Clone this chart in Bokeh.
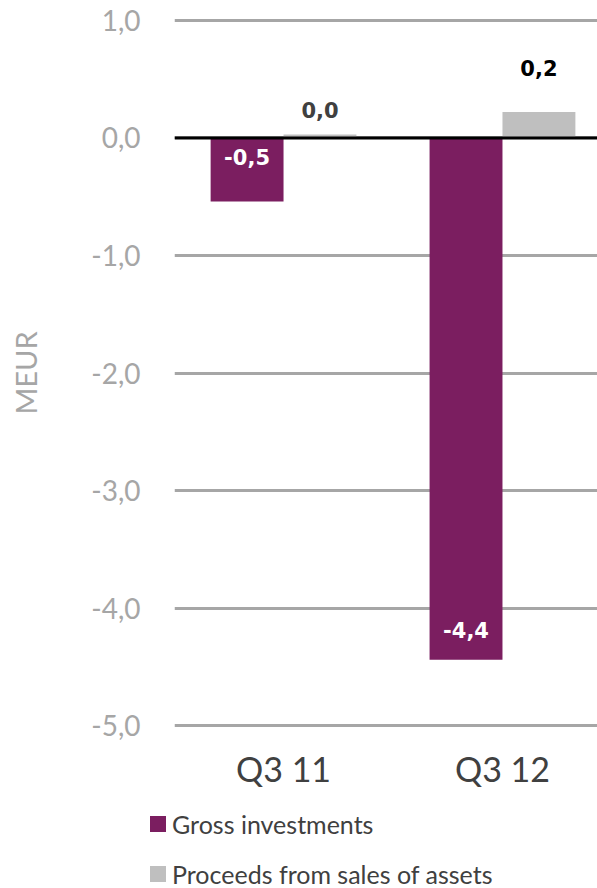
import numpy as np
from bokeh.plotting import figure
from bokeh.layouts import column
from bokeh.models import (Range1d, FixedTicker, CustomJSTickFormatter, Span, Div,
                          ColumnDataSource)
from bokeh.core.properties import value
from bokeh.embed import file_html
from bokeh.resources import INLINE

# ---- data ----
categories = ["Q3 11", "Q3 12"]
gross_investments = [-0.54, -4.44]
proceeds_from_sales = [0.03, 0.22]
y_ticks = [-5, -4, -3, -2, -1, 0, 1]
series_names = ["Gross investments", "Proceeds from sales of assets"]

# ---- styles ----
PURPLE = "#7b1e60"
LIGHTGRAY = "#bfbfbf"
GRID = "#a6a6a6"
TICK_TXT = "#a6a6a6"
DARK = "#404040"
FONT = "Lato"
series_colors = [PURPLE, LIGHTGRAY]

idx = np.arange(len(categories))
bar_w = 0.333

p = figure(width=597, height=800, output_backend="svg", toolbar_location=None,
           x_range=Range1d(-0.498, 1.434), y_range=Range1d(-5.05, 1.05),
           min_border_left=174, min_border_right=0, min_border_top=14,
           min_border_bottom=69, margin=0)
p.outline_line_color = None
p.background_fill_color = "white"
p.border_fill_color = "white"

src_g = ColumnDataSource(dict(x=idx - bar_w / 2, top=gross_investments))
src_p = ColumnDataSource(dict(x=idx + bar_w / 2, top=proceeds_from_sales))
r_g = p.vbar(x="x", top="top", bottom=0, width=bar_w, source=src_g,
             fill_color=PURPLE, line_color=None)
r_p = p.vbar(x="x", top="top", bottom=0, width=bar_w, source=src_p,
             fill_color=LIGHTGRAY, line_color=None)

p.add_layout(Span(location=0, dimension="width", line_color="black", line_width=3))

# grid
p.xgrid.visible = False
p.ygrid.ticker = FixedTicker(ticks=y_ticks)
p.ygrid.grid_line_color = GRID
p.ygrid.grid_line_width = 3

# y axis
p.yaxis.ticker = FixedTicker(ticks=y_ticks)
p.yaxis.formatter = CustomJSTickFormatter(code="return tick.toFixed(1).replace('.', ',');")
p.yaxis.axis_line_color = None
p.yaxis.major_tick_line_color = None
p.yaxis.minor_tick_line_color = None
p.yaxis.major_label_text_color = TICK_TXT
p.yaxis.major_label_text_font = FONT
p.yaxis.major_label_text_font_size = "28px"
p.yaxis.major_label_standoff = 28
p.yaxis.axis_label = "MEUR"
p.yaxis.axis_label_text_color = TICK_TXT
p.yaxis.axis_label_text_font = FONT
p.yaxis.axis_label_text_font_size = "29px"
p.yaxis.axis_label_text_font_style = "normal"
p.yaxis.axis_label_standoff = 45

# x axis
p.xaxis.ticker = FixedTicker(ticks=list(idx))
p.xaxis.major_label_overrides = {int(i): c for i, c in zip(idx, categories)}
p.xaxis.axis_line_color = None
p.xaxis.major_tick_line_color = None
p.xaxis.minor_tick_line_color = None
p.xaxis.major_label_text_color = DARK
p.xaxis.major_label_text_font = FONT
p.xaxis.major_label_text_font_size = "34px"
p.xaxis.major_label_standoff = 10

# data labels
def fmt(v):
    return f"{v:.1f}".replace(".", ",")

lbl_src = ColumnDataSource(dict(
    x=list(idx - bar_w / 2) + list(idx + bar_w / 2),
    y=gross_investments + proceeds_from_sales,
    text=[fmt(v) for v in gross_investments + proceeds_from_sales],
    color=["white", "white", DARK, "black"],
    dy=[-44, -30, -24, -44],
))
p.text(x="x", y="y", text="text", source=lbl_src, text_color="color", y_offset="dy",
       text_align="center", text_baseline="middle", text_font=value("DejaVu Sans"),
       text_font_style="bold", text_font_size="21px")

# legend (HTML, below the chart)
rows = []
for i, (name, col) in enumerate(zip(series_names, series_colors)):
    top = 13 + i * 50
    rows.append(
        f'<div style="position:absolute;left:150px;top:{top}px;height:22px;'
        f'display:flex;align-items:center;white-space:nowrap;">'
        f'<span style="display:inline-block;width:16px;height:16px;background:{col};'
        f'margin-right:6px;"></span><span>{name}</span></div>'
    )
legend_html = (f'<div style="position:relative;width:597px;height:88px;'
               f'font-family:{FONT};font-size:25px;color:{DARK};line-height:22px;">'
               + "".join(rows) + "</div>")
legend_div = Div(text=legend_html, width=597, height=88, margin=0)

open("out.html", "w").write(file_html(column(p, legend_div, spacing=0), INLINE))
